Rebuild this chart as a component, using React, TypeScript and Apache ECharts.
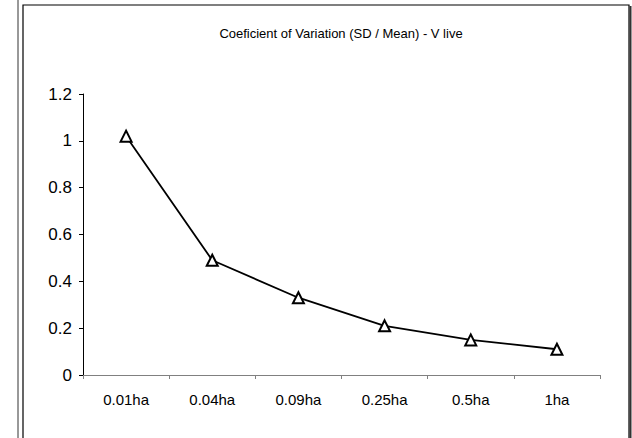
import React, { useEffect, useRef } from "react";
import * as echarts from "echarts";

const categories = ["0.01ha", "0.04ha", "0.09ha", "0.25ha", "0.5ha", "1ha"];
const cvValues = [1.02, 0.49, 0.33, 0.21, 0.15, 0.11];
const titleText = "Coeficient of Variation (SD / Mean) - V live";

export default function App() {
  const ref = useRef<HTMLDivElement>(null);
  useEffect(() => {
    if (!ref.current) return;
    const chart = echarts.init(ref.current, undefined, { renderer: "svg" });
    const font = "Arial, 'Liberation Sans', sans-serif";
    chart.setOption({
      animation: false,
      backgroundColor: "#ffffff",
      graphic: [
        { type: "line", shape: { x1: 18, y1: 0, x2: 18, y2: 438 }, style: { stroke: "#333", lineWidth: 1 } },
        { type: "rect", shape: { x: 23, y: 5, width: 606, height: 440 }, style: { fill: "none", stroke: "#000", lineWidth: 1.2 } },
        { type: "line", shape: { x1: 630.5, y1: 6, x2: 630.5, y2: 438 }, style: { stroke: "#333", lineWidth: 2 } },
        {
          type: "text",
          x: 341,
          y: 33,
          style: { text: titleText, textAlign: "center", textVerticalAlign: "middle", font: `13px ${font}`, fill: "#000" },
        },
      ],
      grid: { left: 83, right: 32, top: 94, bottom: 63, containLabel: false },
      xAxis: {
        type: "category",
        data: categories,
        boundaryGap: true,
        axisLine: { lineStyle: { color: "#808080", width: 1 } },
        axisTick: { show: true, length: 4, inside: false, alignWithLabel: false, lineStyle: { color: "#808080" } },
        axisLabel: { color: "#000", fontSize: 15, fontFamily: font, margin: 17 },
        splitLine: { show: false },
      },
      yAxis: {
        type: "value",
        min: 0,
        max: 1.2,
        interval: 0.2,
        axisLine: { show: true, lineStyle: { color: "#000", width: 1 } },
        axisTick: { show: true, length: 4, lineStyle: { color: "#000" } },
        axisLabel: { color: "#000", fontSize: 17, fontFamily: font, margin: 11, formatter: (v: number) => String(Math.round(v * 10) / 10) },
        splitLine: { show: false },
      },
      series: [
        {
          type: "line",
          data: cvValues,
          symbol: "triangle",
          symbolSize: 11,
          lineStyle: { color: "#000", width: 1.8 },
          itemStyle: { color: "#fff", borderColor: "#000", borderWidth: 2 },
        },
      ],
    });
    return () => chart.dispose();
  }, []);
  return <div ref={ref} style={{ position: "fixed", left: 0, top: 0, width: 632, height: 438 }} />;
}
